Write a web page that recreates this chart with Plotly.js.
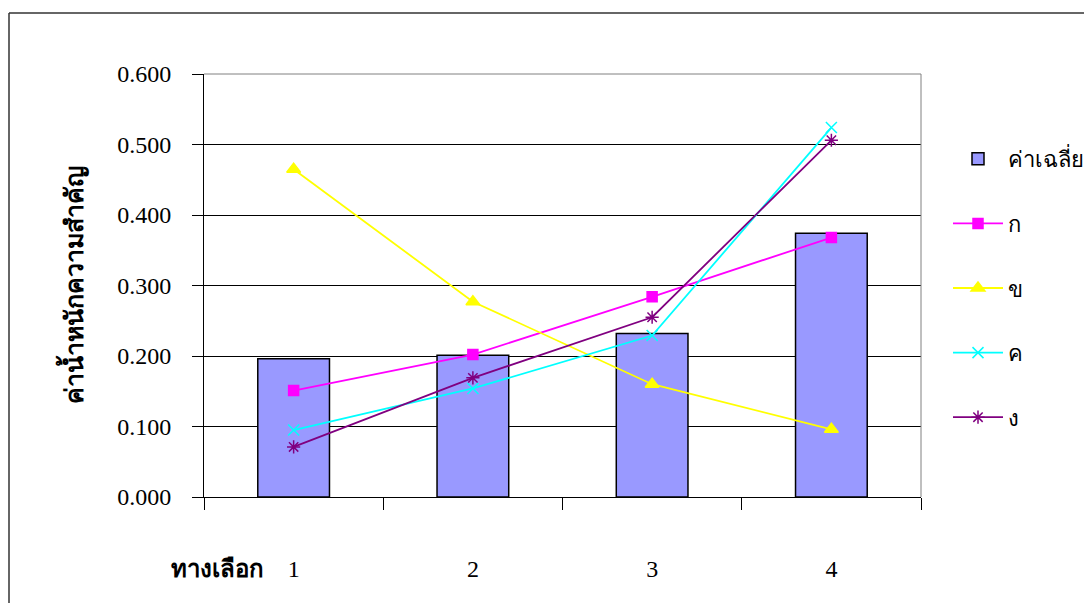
<!DOCTYPE html>
<html>
<head>
<meta charset="utf-8">
<script src="https://cdn.plot.ly/plotly-3.0.1.min.js"></script>
<style>
html,body{margin:0;padding:0;background:#fff;}
#chart{width:1084px;height:603px;}
</style>
</head>
<body>
<div id="chart"></div>
<script>
// Data
const categories = ["1", "2", "3", "4"];
const avgValues = [0.196, 0.201, 0.232, 0.374];   // ค่าเฉลี่ย
const kValues   = [0.151, 0.202, 0.284, 0.368];   // ก
const khValues  = [0.465, 0.277, 0.160, 0.096];   // ข
const khoValues = [0.095, 0.154, 0.229, 0.524];   // ค
const ngValues  = [0.071, 0.169, 0.255, 0.506];   // ง
const yTicks = [0, 0.1, 0.2, 0.3, 0.4, 0.5, 0.6];

const W = 1084, H = 603;
const L = 204, R = 921, T = 74, B = 497;
const pw = R - L, ph = B - T;
const px = x => (x - L) / pw;
const py = y => (B - y) / ph;

const thaiFont = "Noto Sans, DejaVu Sans, sans-serif";
const serif = "Liberation Serif, Times New Roman, serif";

function lineTrace(name, vals, color, symbol, size, group) {
  return {
    type: 'scatter', mode: 'lines+markers', name: name, x: categories, y: vals,
    line: {color: color, width: 1.8},
    marker: {color: color, symbol: symbol, size: size, line: {color: color, width: 1.5}},
    legendgroup: group
  };
}

const traces = [
  {type: 'bar', name: 'ค่าเฉลี่ย', x: categories, y: avgValues, width: 0.4,
   marker: {color: '#9999FF', line: {color: '#000000', width: 1.5}}, legendgroup: 'g0'},
  lineTrace('ก', kValues, '#FF00FF', 'square', 10, 'g1'),
  lineTrace('ข', khValues, '#FFFF00', 'triangle-up', 12, 'g2'),
  lineTrace('ค', khoValues, '#00FFFF', 'x-thin', 11, 'g3'),
  lineTrace('ง', ngValues, '#800080', 'asterisk', 11, 'g4')
];

const layout = {
  width: W, height: H,
  margin: {l: L, r: W - R, t: T, b: H - B, pad: 0, autoexpand: false},
  paper_bgcolor: '#ffffff', plot_bgcolor: '#ffffff',
  showlegend: true,
  xaxis: {
    type: 'category', range: [-0.5, 3.5], automargin: false,
    tickson: 'boundaries', ticks: 'outside', ticklen: 12, tickcolor: '#000', tickwidth: 1,
    showline: true, linecolor: '#000', linewidth: 1,
    showgrid: false, zeroline: false,
    tickfont: {family: serif, size: 24, color: '#000'},
    ticklabelstandoff: 50,
    fixedrange: true
  },
  yaxis: {
    range: [0, 0.6], tickvals: yTicks, tickformat: '.3f', automargin: false,
    ticks: 'outside', ticklen: 11, tickcolor: '#000', tickwidth: 1,
    showline: true, linecolor: '#000', linewidth: 1,
    showgrid: true, gridcolor: '#000', gridwidth: 1, zeroline: false,
    tickfont: {family: serif, size: 24, color: '#000'},
    ticklabelstandoff: 16,
    title: {text: 'ค่าน้ำหนักความสำคัญ', font: {family: thaiFont, size: 25, color: '#000', weight: 'bold'}, standoff: 26},
    fixedrange: true
  },
  legend: {
    xref: 'container', yref: 'container',
    x: 948 / W, y: 1 - 138 / H, xanchor: 'left', yanchor: 'top',
    font: {family: thaiFont, size: 22, color: '#000'},
    bgcolor: 'rgba(0,0,0,0)', borderwidth: 0,
    tracegroupgap: 33, itemwidth: 50, traceorder: 'grouped'
  },
  annotations: [
    {text: '<b>ทางเลือก</b>', xref: 'paper', yref: 'paper', x: px(266), y: py(567),
     xanchor: 'right', yanchor: 'middle', showarrow: false,
     font: {family: thaiFont, size: 24, color: '#000'}}
  ],
  shapes: [
    // plot area top/right gray border
    {type: 'line', xref: 'paper', yref: 'paper', x0: 0, x1: 1, y0: 1, y1: 1, line: {color: '#808080', width: 1}},
    {type: 'line', xref: 'paper', yref: 'paper', x0: 1, x1: 1, y0: 0, y1: 1, line: {color: '#808080', width: 1}},
    // outer chart frame
    {type: 'line', xref: 'paper', yref: 'paper', x0: px(9), x1: px(1090), y0: py(13), y1: py(13), line: {color: '#333', width: 1.5}},
    {type: 'line', xref: 'paper', yref: 'paper', x0: px(9), x1: px(9), y0: py(13), y1: py(610), line: {color: '#333', width: 1.5}}
  ]
};

Plotly.newPlot('chart', traces, layout, {displayModeBar: false, staticPlot: true});
</script>
</body>
</html>
